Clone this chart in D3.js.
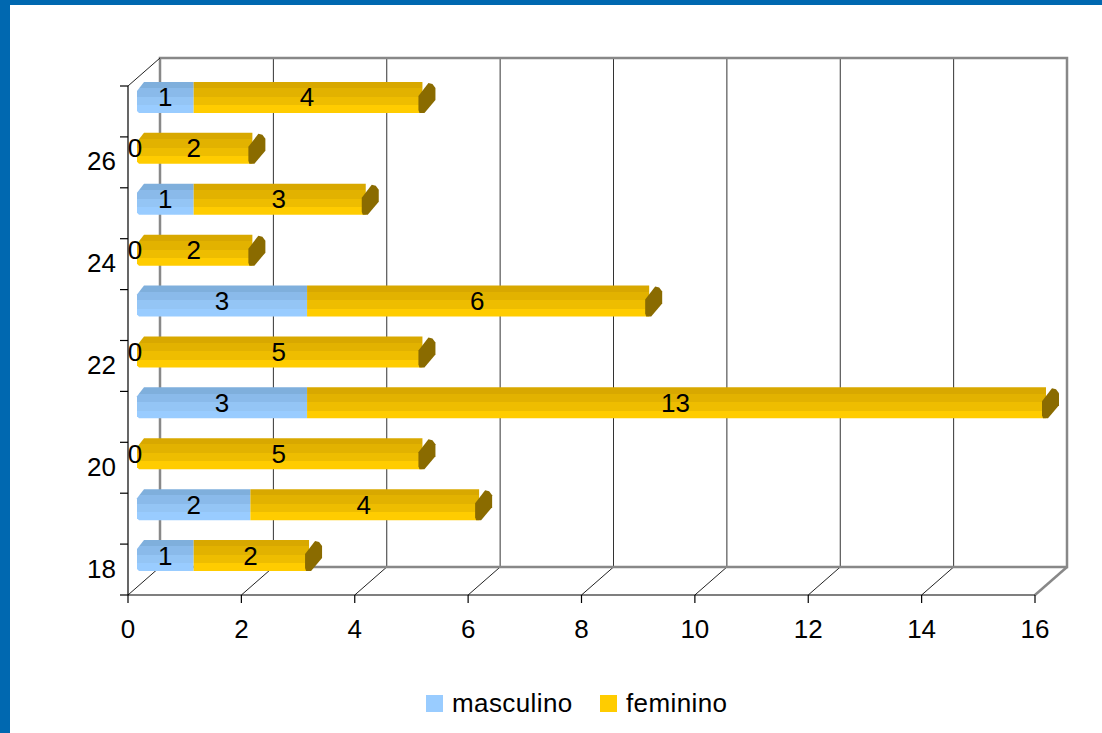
<!DOCTYPE html>
<html>
<head>
<meta charset="utf-8">
<script src="https://cdn.jsdelivr.net/npm/d3@7"></script>
<style>
  html, body { margin: 0; padding: 0; background: #fff; }
  svg { display: block; font-family: "Liberation Sans", Arial, sans-serif; }
</style>
</head>
<body>
<svg id="chart" width="1102" height="733"></svg>
<script>
const categories = [18, 19, 20, 21, 22, 23, 24, 25, 26, 27];
const yLabels = [18, 20, 22, 24, 26];
const masculino = [1, 2, 0, 3, 0, 3, 0, 1, 0, 1];
const feminino = [2, 4, 5, 13, 5, 6, 2, 3, 2, 4];
const xTicks = [0, 2, 4, 6, 8, 10, 12, 14, 16];
const seriesNames = ["masculino", "feminino"];

const svg = d3.select("#chart");
const W = 1102, H = 733;
const FS = 26;

// frame
svg.append("rect").attr("width", W).attr("height", H).attr("fill", "#0068b0");
svg.append("rect").attr("x", 10).attr("y", 5).attr("width", W - 10).attr("height", H - 5).attr("fill", "#fff");

const x = d3.scaleLinear().domain([0, 16]).range([128, 1035]);
const y = d3.scaleBand().domain(categories).range([595, 86]);
const DX = 32, DY = -28;            // depth of the 3d box
const BX = 9, BY = -14, BH = 31;    // bar position inside the box

const yTop = y.range()[1], yBottom = y.range()[0];
const grid = svg.append("g");

// back wall gridlines
grid.selectAll("line.v").data(xTicks.slice(1, -1)).enter().append("line")
  .attr("x1", d => x(d) + DX).attr("x2", d => x(d) + DX)
  .attr("y1", yTop + DY).attr("y2", yBottom + DY)
  .attr("stroke", "#333").attr("stroke-width", 1);
// floor diagonals
grid.selectAll("line.f").data(xTicks.slice(0, -1)).enter().append("line")
  .attr("x1", d => x(d)).attr("x2", d => x(d) + DX)
  .attr("y1", yBottom).attr("y2", yBottom + DY)
  .attr("stroke", "#222").attr("stroke-width", 1);
// back box edges
const gray = "#888";
grid.append("path")
  .attr("d", `M${x(0) + DX},${yBottom + DY} V${yTop + DY} H${x(16) + DX} V${yBottom + DY} H${x(0) + DX}`)
  .attr("fill", "none").attr("stroke", gray).attr("stroke-width", 2.5);
grid.append("line")
  .attr("x1", x(16)).attr("y1", yBottom).attr("x2", x(16) + DX).attr("y2", yBottom + DY)
  .attr("stroke", gray).attr("stroke-width", 2.5);
grid.append("line")
  .attr("x1", x(0)).attr("y1", yTop).attr("x2", x(0) + DX).attr("y2", yTop + DY)
  .attr("stroke", "#222").attr("stroke-width", 1);

// gradients
const defs = svg.append("defs");
const shades = {
  masculino: ["#7fafdc", "#8abaea", "#94c5f5", "#99ccff"],
  feminino: ["#d8a800", "#e2b200", "#eebd00", "#ffcc00"]
};
Object.entries(shades).forEach(([name, cols]) => {
  const g = defs.append("linearGradient").attr("id", "g-" + name)
    .attr("x1", 0).attr("y1", 0).attr("x2", 0).attr("y2", 1);
  const cuts = [0, 0.2, 0.48, 0.75, 1];
  cols.forEach((c, i) => {
    g.append("stop").attr("offset", cuts[i]).attr("stop-color", c);
    g.append("stop").attr("offset", cuts[i + 1]).attr("stop-color", c);
  });
});

// bars
const bars = svg.append("g");
const labels = svg.append("g").attr("font-size", FS).attr("text-anchor", "middle");
categories.forEach((c, i) => {
  const y0 = y(c) + y.bandwidth() / 2 + BY - BH / 2, y1 = y0 + BH;
  const m = masculino[i], f = feminino[i];
  const xs = x(0) + BX, xm = x(m) + BX, xe = x(m + f) + BX;
  if (m > 0) {
    bars.append("path")
      .attr("d", `M${xs},${y0 + 9} L${xs + 7},${y0} H${xm} V${y1} H${xs + 2} L${xs},${y1 - 2} Z`)
      .attr("fill", "url(#g-masculino)");
    bars.append("path")
      .attr("d", `M${xm},${y0} H${xe + 2} V${y1} H${xm} Z`)
      .attr("fill", "url(#g-feminino)");
  } else {
    bars.append("path")
      .attr("d", `M${xs},${y0 + 9} L${xs + 7},${y0} H${xe + 2} V${y1} H${xs + 2} L${xs},${y1 - 2} Z`)
      .attr("fill", "url(#g-feminino)");
  }
  // end cap
  bars.append("path")
    .attr("d", `M${xe - 1},${y1} L${xe - 2},${y1 - 3} V${y0 + 14} L${xe + 8},${y0 + 1} L${xe + 12},${y0 + 2}`
      + ` L${xe + 15},${y0 + 6} V${y0 + 18} L${xe + 4},${y1} Z`)
    .attr("fill", "#8a6b00");

  const ty = (y0 + y1) / 2 + 9;
  labels.append("text").attr("x", m > 0 ? (xs + xm) / 2 : xs - 2).attr("y", ty).text(m);
  labels.append("text").attr("x", (xm + xe) / 2).attr("y", ty).text(f);
});

// front axes
const ax = svg.append("g").attr("stroke", "#000").attr("stroke-width", 1.2);
ax.append("line").attr("x1", x(0)).attr("x2", x(0)).attr("y1", yTop).attr("y2", yBottom);
ax.append("line").attr("x1", x(0)).attr("x2", x(16)).attr("y1", yBottom).attr("y2", yBottom);
ax.selectAll("line.xt").data(xTicks).enter().append("line")
  .attr("x1", d => x(d)).attr("x2", d => x(d)).attr("y1", yBottom).attr("y2", yBottom + 8);
const yBounds = categories.map(c => y(c)).concat([yBottom]);
ax.selectAll("line.yt").data(yBounds).enter().append("line")
  .attr("x1", x(0) - 8).attr("x2", x(0)).attr("y1", d => d).attr("y2", d => d);

svg.append("g").attr("font-size", FS).attr("text-anchor", "middle")
  .selectAll("text").data(xTicks).enter().append("text")
  .attr("x", d => x(d)).attr("y", yBottom + 43).text(d => d);
svg.append("g").attr("font-size", FS).attr("text-anchor", "end")
  .selectAll("text").data(yLabels).enter().append("text")
  .attr("x", 116).attr("y", d => y(d) + y.bandwidth() / 2 + 8).text(d => d);

// legend
const legend = svg.append("g").attr("font-size", FS);
const legendX = [426, 600];
seriesNames.forEach((s, i) => {
  legend.append("rect").attr("x", legendX[i]).attr("y", 695).attr("width", 17).attr("height", 17)
    .attr("fill", shades[s][3]);
  legend.append("text").attr("x", legendX[i] + 26).attr("y", 712).attr("letter-spacing", 0.4).text(s);
});
</script>
</body>
</html>
